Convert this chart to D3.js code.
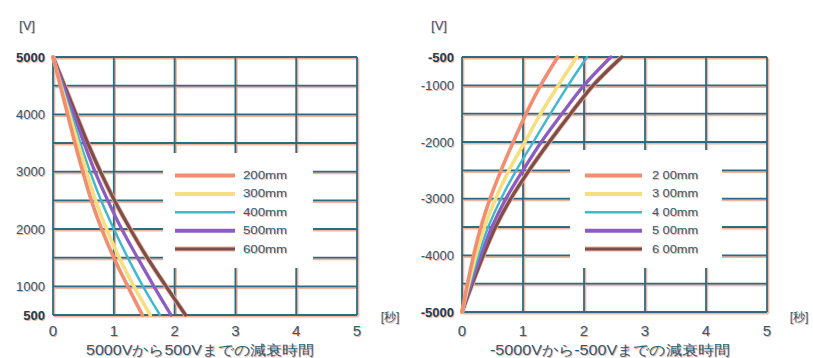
<!DOCTYPE html>
<html>
<head>
<meta charset="utf-8">
<script src="https://cdn.jsdelivr.net/npm/d3@7/dist/d3.min.js"></script>
<style>
  body { margin: 0; background: #fff; }
  text { font-family: "Liberation Sans Narrow", "Liberation Sans", Arial, sans-serif; }
</style>
</head>
<body>
<div id="chart"></div>
<script>
// series labels + colours
const seriesLeft = ["200mm", "300mm", "400mm", "500mm", "600mm"];
const seriesRight = ["2 00mm", "3 00mm", "4 00mm", "5 00mm", "6 00mm"];
const seriesColors = ["#f28d70", "#f6df80", "#3cb8cf", "#8c5cc2", "#7d4f4c"];
const seriesWidths = [3.6, 3.6, 2.4, 3.3, 3.3];

const xTicks = [0, 1, 2, 3, 4, 5];

// left panel: 5000V -> 500V, time (s) at each voltage step
const leftVolts = [5000, 4500, 4000, 3500, 3000, 2500, 2000, 1500, 1000, 500];
const leftYTicks = [5000, 4000, 3000, 2000, 1000, 500];
const left200 = [0, 0.12, 0.24, 0.36, 0.49, 0.63, 0.80, 1.00, 1.23, 1.47];
const left300 = [0, 0.13, 0.27, 0.41, 0.55, 0.70, 0.88, 1.09, 1.33, 1.60];
const left400 = [0, 0.15, 0.30, 0.45, 0.61, 0.79, 1.00, 1.23, 1.48, 1.76];
const left500 = [0, 0.17, 0.34, 0.51, 0.69, 0.90, 1.13, 1.39, 1.66, 1.94];
const left600 = [0, 0.19, 0.38, 0.57, 0.78, 1.01, 1.27, 1.55, 1.86, 2.18];

// right panel: -5000V -> -500V
const rightVolts = [-5000, -4500, -4000, -3500, -3000, -2500, -2000, -1500, -1000, -500];
const rightYTicks = [-500, -1000, -2000, -3000, -4000, -5000];
const right200 = [0, 0.09, 0.19, 0.31, 0.46, 0.64, 0.84, 1.05, 1.29, 1.57];
const right300 = [0, 0.11, 0.23, 0.37, 0.55, 0.77, 1.03, 1.29, 1.58, 1.88];
const right400 = [0, 0.13, 0.27, 0.43, 0.64, 0.89, 1.17, 1.45, 1.74, 2.05];
const right500 = [0, 0.15, 0.31, 0.49, 0.72, 1.00, 1.30, 1.64, 2.00, 2.44];
const right600 = [0, 0.17, 0.35, 0.55, 0.80, 1.10, 1.43, 1.78, 2.15, 2.62];

const W = 813, H = 358;
const ink = "#2a6079";
const gridColor = "#2b6c85";
const fringe = "#f5b39a";

const svg = d3.select("#chart").append("svg")
  .attr("width", W).attr("height", H);

// text with the orange misprint fringe
function label(g, x, y, str, opts) {
  opts = opts || {};
  const mk = (dx, dy, fill) => {
    const t = g.append("text")
      .attr("x", x + dx).attr("y", y + dy)
      .attr("text-anchor", opts.anchor || "start")
      .attr("dominant-baseline", "central")
      .style("font-size", (opts.size || 12) + "px")
      .style("font-weight", opts.bold ? "bold" : "normal")
      .attr("fill", fill)
      .text(str);
    if (opts.len) t.attr("textLength", opts.len).attr("lengthAdjust", "spacingAndGlyphs");
    return t;
  };
  mk(1, 1, fringe);
  mk(0, 0, opts.color || ink);
}

function drawPanel(p) {
  const g = svg.append("g");
  const x = d3.scaleLinear().domain([0, 5]).range([p.x0, p.x1]);
  const y = d3.scaleLinear().domain(p.yDomain).range([p.y0, p.y1]);

  const vLo = Math.min(...p.yDomain), vHi = Math.max(...p.yDomain);
  const hLines = d3.range(vLo, vHi + 1, 500);

  // grid: orange offset copy then teal line
  const grid = g.append("g");
  [[1.2, 1.5, fringe, 2.2], [0, 0, gridColor, 1.8]].forEach(([dx, dy, c, w]) => {
    grid.selectAll(null).data(hLines).join("line")
      .attr("x1", x(0) + dx).attr("x2", x(5) + dx)
      .attr("y1", d => y(d) + dy).attr("y2", d => y(d) + dy)
      .attr("stroke", c).attr("stroke-width", w);
    grid.selectAll(null).data(xTicks).join("line")
      .attr("x1", d => x(d) + dx).attr("x2", d => x(d) + dx)
      .attr("y1", y(vHi) + dy).attr("y2", y(vLo) + dy)
      .attr("stroke", c).attr("stroke-width", w);
  });

  // legend backdrop cuts the grid
  g.append("rect")
    .attr("x", p.legend.x).attr("y", p.legend.y)
    .attr("width", p.legend.w).attr("height", p.legend.h)
    .attr("fill", "#fff");

  // curves
  const line = d3.line()
    .x(d => x(d[0])).y(d => y(d[1]))
    .curve(d3.curveCatmullRom.alpha(0.5));
  for (let i = p.series.length - 1; i >= 0; i--) {
    const pts = p.series[i].map((t, k) => [t, p.volts[k]]);
    if (i === 4) {
      g.append("path").datum(pts).attr("d", line)
        .attr("fill", "none").attr("stroke", fringe).attr("stroke-width", 4.8);
    }
    g.append("path").datum(pts).attr("d", line)
      .attr("fill", "none")
      .attr("stroke", seriesColors[i])
      .attr("stroke-width", seriesWidths[i])
      .attr("stroke-linecap", "round");
  }

  // legend
  p.names.forEach((name, i) => {
    const ly = p.legend.rowY + i * 18.4;
    if (i === 4) {
      g.append("line")
        .attr("x1", p.legend.lx0).attr("x2", p.legend.lx1)
        .attr("y1", ly).attr("y2", ly)
        .attr("stroke", fringe).attr("stroke-width", 5);
    }
    g.append("line")
      .attr("x1", p.legend.lx0).attr("x2", p.legend.lx1)
      .attr("y1", ly).attr("y2", ly)
      .attr("stroke", seriesColors[i])
      .attr("stroke-width", i === 2 ? 2.4 : (i === 4 ? 3 : 4));
    label(g, p.legend.tx, ly, name, { size: 10, len: p.legend.tlen });
  });

  // y tick labels
  p.yTicks.forEach((v, i) => {
    const edge = i === 0 || i === p.yTicks.length - 1;
    label(g, p.x0 - 8, y(v), String(v), {
      anchor: "end", size: 13, bold: edge, color: edge ? "#1d3f55" : ink
    });
  });

  // x tick labels
  xTicks.forEach(t => label(g, x(t), 330, String(t), { anchor: "middle", size: 15 }));

  label(g, p.vx, 25, "[V]", { anchor: "middle", size: 13 });
  label(g, p.sx, 317, "[秒]", { anchor: "middle", size: 12 });
  label(g, p.titleX, 350, p.title, { anchor: "middle", size: 14, len: p.titleLen });
}

drawPanel({
  x0: 53, x1: 357, y0: 57, y1: 315,
  yDomain: [5000, 500], yTicks: leftYTicks, volts: leftVolts,
  series: [left200, left300, left400, left500, left600],
  names: seriesLeft,
  legend: { x: 163, y: 153, w: 150, h: 115, lx0: 175, lx1: 235, tx: 243, tlen: 44, rowY: 175.5 },
  vx: 27, sx: 390, titleX: 200, titleLen: 228,
  title: "5000Vから500Vまでの減衰時間"
});

drawPanel({
  x0: 462, x1: 767, y0: 57, y1: 312,
  yDomain: [-500, -5000], yTicks: rightYTicks, volts: rightVolts,
  series: [right200, right300, right400, right500, right600],
  names: seriesRight,
  legend: { x: 570, y: 150, w: 152, h: 118, lx0: 585, lx1: 642, tx: 652, tlen: 46, rowY: 175.5 },
  vx: 439, sx: 799, titleX: 610, titleLen: 240,
  title: "-5000Vから-500Vまでの減衰時間"
});
</script>
</body>
</html>
